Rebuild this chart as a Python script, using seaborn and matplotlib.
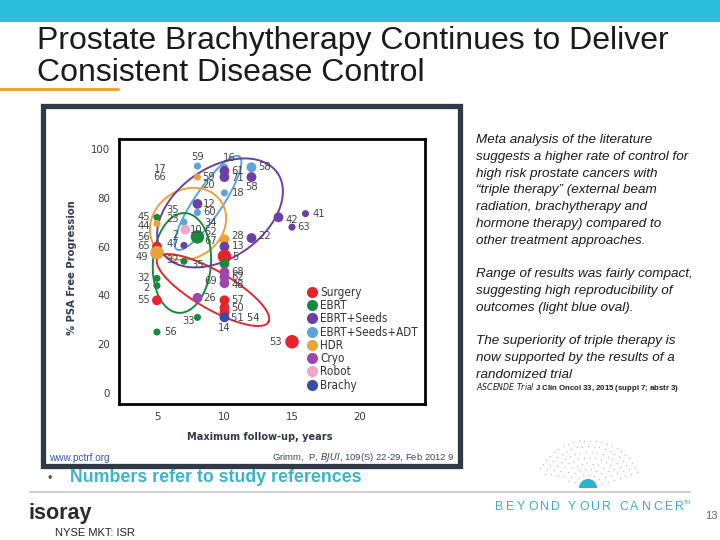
import numpy as np
import pandas as pd
import matplotlib
matplotlib.use("Agg")
import matplotlib.pyplot as plt
import seaborn as sns
from matplotlib.lines import Line2D
from matplotlib.patches import Rectangle, Wedge

# treatment groups and their colours
groups = ["Surgery", "EBRT", "EBRT+Seeds", "EBRT+Seeds+ADT", "HDR", "Cryo", "Robot", "Brachy"]
group_colors = ["#e8232b", "#19893e", "#6b3fa3", "#5ba3dc", "#eba23a", "#9b47ad", "#f2a6c6", "#3a4bab"]

# studies: maximum follow-up (years), % PSA free progression, group
study_years = [5, 5, 5, 5, 5, 5, 5, 5,
               7, 7.1, 7, 7,
               8, 8, 8, 8, 8, 8, 8,
               10, 10, 10, 12, 12, 10, 14, 16, 15, 12,
               10, 10, 10, 10, 10, 10, 10, 10, 10, 10, 10, 15]
study_psa = [72, 69.5, 60, 57.5, 47, 44, 38, 25,
             70, 67, 60.5, 54,
             93, 88.5, 77.5, 74, 64, 39, 31,
             92.5, 91, 88.5, 92.5, 88.5, 82, 72, 73.5, 68, 63.5,
             63, 60, 56, 53, 49.5, 47.5, 45, 38, 35, 33, 31, 21]
study_group = ["EBRT", "HDR", "Surgery", "HDR", "EBRT", "EBRT", "Surgery", "EBRT",
               "EBRT+Seeds+ADT", "Robot", "EBRT+Seeds", "EBRT",
               "EBRT+Seeds+ADT", "HDR", "EBRT+Seeds", "EBRT+Seeds+ADT", "EBRT", "Cryo", "EBRT",
               "EBRT+Seeds+ADT", "EBRT+Seeds", "EBRT+Seeds", "EBRT+Seeds+ADT", "EBRT+Seeds",
               "EBRT+Seeds+ADT", "EBRT+Seeds", "EBRT+Seeds", "EBRT+Seeds", "EBRT+Seeds",
               "HDR", "EBRT+Seeds", "Surgery", "EBRT", "Cryo", "Cryo", "Cryo",
               "Surgery", "Surgery", "Surgery", "Brachy", "Surgery"]

# study reference numbers written next to the dots (index of dot, text)
ref_point = [0, 1, 2, 3, 4, 5, 6, 7, 8, 9, 10, 11, 11, 12, 13, 13, 14, 15, 16, 17, 18,
             19, 20, 21, 22, 23, 24, 25, 26, 27, 28, 29, 30, 31, 33, 34, 35, 35, 36, 37,
             39, 39, 40]
ref_text = ["45", "44", "56\n65", "49", "32", "2", "55", "56", "35\n23", "10", "2\n47", "32", "35",
            "59", "17\n66", "59\n20", "12", "60", "34\n52\n67", "26", "33",
            "16", "61", "71", "58", "58", "18", "42", "41", "63", "22", "28", "13", "5",
            "68", "62", "48", "69", "57", "50", "51 54", "14", "53"]

# label placement (alignment, dx px, dy px) and dot sizes -- style only
ref_place = [("r", -7, 0), ("r", -7, -3), ("r", -7, 5), ("r", -9, -4), ("r", -7, 0), ("r", -7, -2),
             ("r", -7, 0), ("l", 7, 0), ("r", -5, 8), ("l", 5, 0), ("r", -5, 6), ("r", -5, 1),
             ("l", 7, -4), ("c", 0, 9), ("r", -31, 4), ("l", 5, -4), ("l", 5, 0), ("l", 6, 0),
             ("l", 7, 5), ("l", 6, 0), ("r", -3, -4), ("l", -2, 9), ("l", 7, 0), ("l", 7, -1),
             ("l", 7, 0), ("c", 0, -10), ("l", 7, 0), ("l", 7, -3), ("l", 7, 0), ("l", 5, 0),
             ("l", 7, 2), ("l", 7, 3), ("l", 7, 1), ("l", 8, -1), ("l", 7, 0), ("l", 7, 0),
             ("l", 7, -2), ("r", -7, 2), ("l", 7, 0), ("l", 7, 0), ("l", 7, -1), ("c", 0, -11),
             ("r", -10, 0)]
dot_kind = ["s", "s", "m", "b", "s", "s", "m", "s",
            "s", "m", "s", "s",
            "s", "s", "m", "s", "b", "m", "s",
            "s", "m", "m", "m", "m", "s", "m", "s", "s", "m",
            "m", "m", "b", "m", "m", "m", "m", "m", "m", "m", "m", "b"]

# hand-drawn ovals: centre (years, %), half-axes in px, tilt in degrees
ovals = [("#5ba3dc", 8.78, 77.9, 56, 14, 56),
         ("#eba23a", 7.3, 69.3, 40, 34, 35),
         ("#19893e", 6.85, 53.3, 29, 50, -4),
         ("#e02830", 9.15, 42.2, 64, 19, -30),
         ("#6b3fa3", 9.67, 73.8, 70, 45, 35)]

title = "Prostate Brachytherapy Continues to Deliver\nConsistent Disease Control"
notes = [["Meta analysis of the literature",
          "suggests a higher rate of control for",
          "high risk prostate cancers with",
          "\u201ctriple therapy\u201d (external beam",
          "radiation, brachytherapy and",
          "hormone therapy) compared to",
          "other treatment approaches."],
         ["Range of results was fairly compact,",
          "suggesting high reproducibility of",
          "outcomes (light blue oval)."],
         ["The superiority of triple therapy is",
          "now supported by the results of a",
          "randomized trial"]]

sns.set_theme(style="white")
SANS = ["Liberation Sans", "DejaVu Sans"]
NARROW = ["DejaVu Sans"]
plt.rcParams["font.family"] = SANS

df = pd.DataFrame({"years": study_years, "psa": study_psa,
                   "group": study_group, "dot": dot_kind})

fig = plt.figure(figsize=(7.2, 5.4), dpi=100)
fig.patch.set_facecolor("white")

# slide background in pixel coordinates
bg = fig.add_axes([0, 0, 1, 1])
bg.set_xlim(0, 720)
bg.set_ylim(540, 0)
bg.axis("off")
bg.add_patch(Rectangle((0, 0), 720, 22, color="#2bbdd9", lw=0))
bg.plot([0, 118], [89, 89], color="#e8a838", lw=2.2)
bg.text(37, 57, title, fontsize=23, color="#1b1b1b", va="center", linespacing=1.1)
bg.add_patch(Rectangle((42.5, 105.5), 417, 360, fill=False, ec="#2f3a46", lw=3.8))

for k, block in enumerate(notes):
    y0 = [140, 274, 341][k]
    for i, line in enumerate(block):
        bg.text(476, y0 + i * 16.8, line, fontsize=9.7, style="italic",
                color="#1a1a1a", va="center")
bg.text(476, 388, r"$\it{ASCENDE\ Trial}$ J Clin Oncol 33, 2015 (suppl 7; abstr 3)",
        fontsize=5.6, color="#1a1a1a", va="center", fontweight="bold")

bg.text(49, 458, "www.pctrf.org", fontsize=7.2, color="#3558a5", va="center")
bg.text(455, 457, r"Grimm,  P, $\it{BJUI}$, 109(S) 22-29, Feb 2012 9",
        fontsize=6.8, color="#3b4a5c", va="center", ha="right")
bg.text(72, 268, "% PSA Free Progression", rotation=90, ha="center", va="center",
        fontsize=8, fontweight="bold", family=NARROW, fontstretch="condensed",
        color="#2f3b4c")
bg.text(260, 437, "Maximum follow-up, years", ha="center", va="center",
        fontsize=7.8, fontweight="bold", family=NARROW, fontstretch="condensed",
        color="#2f3b4c")

# footer
bg.text(47, 479, "\u2022", fontsize=9, color="#555555", va="center")
bg.text(70, 478, "Numbers refer to study references", fontsize=12.8, fontweight="bold",
        color="#3db4cb", va="center")
bg.plot([30, 690], [492, 492], color="#cfcfcf", lw=1.5)
bg.text(29, 514, "isoray", fontsize=15.5, fontweight="bold", color="#2b2b2b", va="center")
bg.text(55, 533, "NYSE MKT: ISR", fontsize=8, color="#222222", va="center")
xpos = 495
for ch in "BEYOND YOUR CANCER":
    bg.text(xpos, 507, ch, fontsize=8.8, color="#3aaec7", va="center")
    xpos += 5.5 if ch == " " else (13.4 if ch in "MW" else 11.4 if ch in "ABCDNORUY" else 10.4)
bg.text(xpos - 2, 503, "TM", fontsize=3.5, color="#3aaec7", va="center")
bg.text(705, 516, "13", fontsize=8, color="#666666", va="center")
for r in np.arange(14, 52, 6):
    ang = np.radians(np.arange(20, 161, 140 / (r / 2.2)))
    bg.scatter(588 + r * np.cos(ang) * 1.05, 488 - r * np.sin(ang) * 0.95,
               s=1.2, color="#9aa6ae", alpha=0.6, lw=0)
bg.add_patch(Wedge((588, 488), 9, 180, 360, color="#2bb3cd", lw=0))

# chart axes
ax = fig.add_axes([119 / 720, 1 - 404 / 540, 306 / 720, 265 / 540])
ax.set_facecolor("white")
xlim, ylim = (2.19, 24.85), (-4.5, 104.1)
ax.set_xlim(*xlim)
ax.set_ylim(*ylim)
sx = 306 / (xlim[1] - xlim[0])
sy = 265 / (ylim[1] - ylim[0])

t = np.linspace(0, 2 * np.pi, 240)
for color, cx, cy, a, b, ang in ovals:
    th = np.radians(ang)
    dx = a * np.cos(t) * np.cos(th) - b * np.sin(t) * np.sin(th)
    dy = a * np.cos(t) * np.sin(th) + b * np.sin(t) * np.cos(th)
    ax.plot(cx + dx / sx, cy + dy / sy, color=color, lw=1.4, zorder=2)

sns.scatterplot(data=df, x="years", y="psa", hue="group", hue_order=groups,
                palette=group_colors, size="dot", sizes={"s": 26, "m": 50, "b": 95},
                linewidth=0, legend=False, ax=ax, zorder=3)

for idx, txt, (side, dx, dy) in zip(ref_point, ref_text, ref_place):
    ha = {"l": "left", "r": "right", "c": "center"}[side]
    ax.annotate(txt, (study_years[idx], study_psa[idx]), xytext=(dx, dy),
                textcoords="offset pixels", ha=ha, va="center", fontsize=8,
                family=NARROW, fontstretch="condensed", color="#444444",
                linespacing=0.85, zorder=4)

ax.set_xticks([5, 10, 15, 20])
ax.set_yticks([0, 20, 40, 60, 80, 100])
ax.set_xlabel("")
ax.set_ylabel("")
ax.tick_params(axis="y", direction="inout", length=9, width=1.5, labelsize=8.2,
               labelcolor="#3a3a3a", pad=2)
ax.tick_params(axis="x", direction="in", length=7, width=1.5, labelsize=8.2,
               labelcolor="#3a3a3a", pad=6)
for lab in ax.get_xticklabels() + ax.get_yticklabels():
    lab.set_family(NARROW)
    lab.set_fontstretch("condensed")
for sp in ax.spines.values():
    sp.set_visible(True)
    sp.set_color("black")
    sp.set_linewidth(2)

handles = [Line2D([], [], marker="o", ls="", markersize=8, markerfacecolor=c,
                  markeredgewidth=0) for c in group_colors]
ax.legend(handles, groups, loc="upper left", bbox_to_anchor=(307, 286),
          bbox_transform=bg.transData, frameon=False, handlelength=0.8,
          handletextpad=0.35, labelspacing=0.02, borderpad=0, borderaxespad=0,
          prop={"family": NARROW, "size": 8.4, "stretch": "condensed"})
for txt in ax.get_legend().get_texts():
    txt.set_color("#333333")

fig.savefig("out.png", dpi=100)
